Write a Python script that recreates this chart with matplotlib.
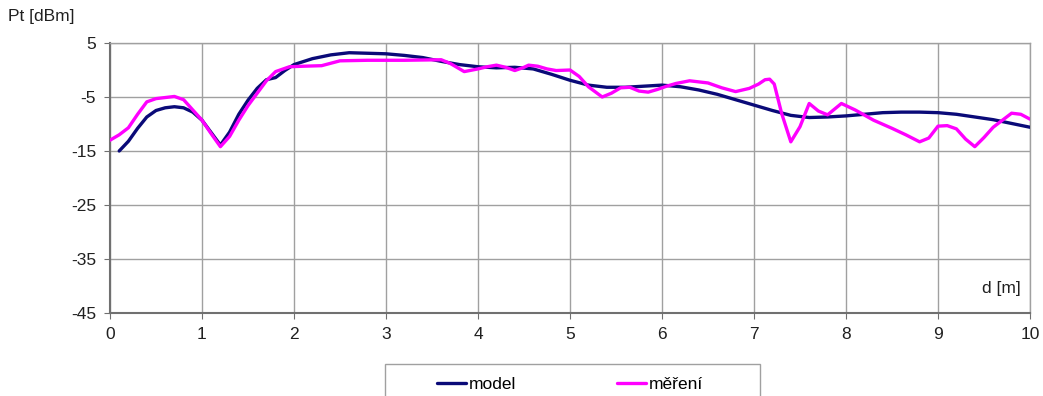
"""
plot.py
------------------
Pt [dBm] vs d [m]: model curve against measured values.
"""
import matplotlib
matplotlib.use("Agg")
import matplotlib.pyplot as plt
from matplotlib.patches import Rectangle

plt.rcParams['font.family'] = ['Liberation Sans', 'DejaVu Sans']
plt.rcParams['axes.unicode_minus'] = False

# model curve (navy)
model_d = [0.1, 0.2, 0.3, 0.4, 0.5, 0.6, 0.7, 0.8, 0.9, 1.0, 1.1, 1.2, 1.3, 1.4, 1.5,
           1.6, 1.7, 1.8, 1.9, 2.0, 2.2, 2.4, 2.6, 2.8, 3.0, 3.2, 3.4, 3.6, 3.8,
           4.0, 4.2, 4.4, 4.6, 4.8, 5.0, 5.2, 5.4, 5.6, 5.8, 6.0, 6.2, 6.4, 6.6,
           6.8, 7.0, 7.2, 7.4, 7.6, 7.8, 8.0, 8.2, 8.4, 8.6, 8.8, 9.0, 9.2, 9.4,
           9.6, 9.8, 10.0]
model_pt = [-15.0, -13.2, -10.8, -8.7, -7.5, -7.0, -6.8, -7.0, -7.8, -9.3, -11.6, -13.9, -11.5, -8.2, -5.6,
            -3.4, -1.8, -1.4, -0.1, 1.0, 2.1, 2.8, 3.2, 3.1, 3.0, 2.7, 2.3, 1.6, 1.0,
            0.6, 0.4, 0.5, 0.2, -0.8, -1.9, -2.8, -3.2, -3.2, -3.0, -2.8, -3.1, -3.7, -4.5,
            -5.5, -6.5, -7.5, -8.4, -8.8, -8.7, -8.5, -8.2, -7.9, -7.8, -7.8, -7.9, -8.2, -8.7,
            -9.2, -9.9, -10.6]

# measured curve (magenta)
meas_d = [0.0, 0.1, 0.2, 0.3, 0.4, 0.5, 0.6, 0.7, 0.8, 0.9, 1.0, 1.1, 1.2, 1.3, 1.4,
          1.5, 1.6, 1.7, 1.8, 1.95, 2.1, 2.3, 2.5, 2.8, 3.2, 3.6, 3.7, 3.85, 4.0,
          4.1, 4.2, 4.3, 4.4, 4.5, 4.55, 4.65, 4.75, 4.85, 5.0, 5.1, 5.2, 5.35, 5.45,
          5.55, 5.65, 5.75, 5.85, 5.95, 6.05, 6.15, 6.3, 6.5, 6.65, 6.8, 6.95, 7.05, 7.12,
          7.17, 7.22, 7.3, 7.4, 7.5, 7.6, 7.7, 7.8, 7.95, 8.1, 8.3, 8.5, 8.65, 8.8,
          8.9, 9.0, 9.1, 9.2, 9.3, 9.4, 9.5, 9.6, 9.7, 9.8, 9.9, 10.0]
meas_pt = [-13.0, -12.0, -10.7, -8.2, -5.9, -5.3, -5.1, -4.9, -5.5, -7.4, -9.3, -11.8, -14.2, -12.3, -9.3,
           -6.6, -4.3, -2.0, -0.3, 0.6, 0.7, 0.8, 1.7, 1.8, 1.8, 1.9, 1.2, -0.3, 0.2,
           0.6, 0.9, 0.5, -0.1, 0.5, 0.9, 0.7, 0.2, -0.1, 0.0, -1.2, -3.1, -5.0, -4.3,
           -3.3, -3.2, -3.9, -4.1, -3.6, -3.0, -2.5, -2.0, -2.4, -3.3, -4.0, -3.4, -2.6, -1.8,
           -1.7, -2.6, -8.0, -13.3, -10.5, -6.2, -7.6, -8.3, -6.2, -7.4, -9.3, -10.8, -12.0, -13.3,
           -12.6, -10.4, -10.3, -10.9, -12.8, -14.2, -12.5, -10.6, -9.3, -8.0, -8.2, -9.1]

x_ticks = list(range(0, 11))
y_ticks = [5, -5, -15, -25, -35, -45]

fig = plt.figure(figsize=(10.43, 3.96), dpi=100)
ax = fig.add_axes([110 / 1043, 1 - 313 / 396, 920 / 1043, 270 / 396])

ax.plot(model_d, model_pt, color='#0a0a78', lw=2.4, label='model', zorder=3,
        solid_joinstyle='round', solid_capstyle='round')
ax.plot(meas_d, meas_pt, color='#ff00ff', lw=2.4, label='měření', zorder=3,
        solid_joinstyle='round', solid_capstyle='round')

ax.set_xlim(0, 10)
ax.set_ylim(-45, 5)
ax.set_xticks(x_ticks)
ax.set_yticks(y_ticks)
ax.grid(True, color='#a0a0a0', lw=1.0)
ax.set_axisbelow(True)
for side in ['left', 'bottom']:
    ax.spines[side].set_color('#707070')
    ax.spines[side].set_linewidth(1.5)
for side in ['top', 'right']:
    ax.spines[side].set_color('#a0a0a0')
    ax.spines[side].set_linewidth(1.0)
ax.tick_params(axis='both', direction='out', length=4, color='#707070',
               labelsize=12.5, labelcolor='#202020', pad=6)

fig.text(8 / 1043, 1 - 17 / 396, 'Pt [dBm]', fontsize=12.5, color='#202020', va='center')
ax.text(9.9, -40.5, 'd [m]', fontsize=12.5, color='#202020', ha='right', va='center')

# legend box runs off the bottom edge of the picture
box = Rectangle((385 / 1043, -0.05), 375 / 1043, 0.05 + 1 - 364 / 396,
                transform=fig.transFigure, facecolor='white', edgecolor='#a0a0a0',
                lw=1.0, clip_on=False)
fig.patches.append(box)
leg = fig.legend(loc='upper left', ncol=2, bbox_to_anchor=(428 / 1043, 1 - 368 / 396),
                 frameon=False, fontsize=12.5, handlelength=1.7, handletextpad=0.15,
                 columnspacing=5.8, borderpad=0.0)

fig.savefig('out.png', dpi=100)
